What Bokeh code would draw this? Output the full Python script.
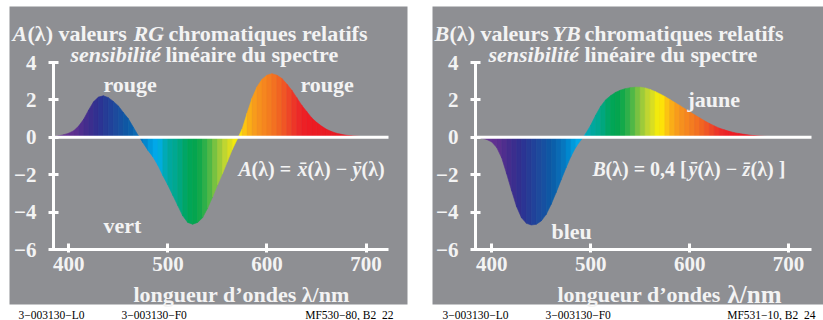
from bokeh.plotting import figure
from bokeh.models import Range1d, Label, BoxAnnotation, ColumnDataSource
from bokeh.layouts import row
from bokeh.embed import file_html
from bokeh.resources import INLINE

# ---- data -------------------------------------------------------------
wavelengths = list(range(385, 725, 5))  # nm

# A(lambda) = xbar - ybar  (red/green opponent signal)
a_values = [0.04, 0.08, 0.14, 0.22, 0.35, 0.60, 0.96, 1.45, 1.90, 2.15,
            2.22, 2.12, 1.92, 1.68, 1.33, 1.00, 0.55, 0.10, -0.30, -0.70,
            -1.05, -1.50, -2.05, -2.55, -3.10, -3.65, -4.20, -4.55, -4.65, -4.55,
            -4.30, -3.80, -3.20, -2.55, -1.95, -1.30, -0.65, -0.10, 0.45, 1.30,
            2.10, 2.70, 3.10, 3.32, 3.40, 3.32, 3.15, 2.85, 2.52, 2.12,
            1.72, 1.38, 1.05, 0.80, 0.60, 0.43, 0.31, 0.22, 0.16, 0.11,
            0.08, 0.06, 0.04, 0.03, 0.02, 0.01, 0.01, 0.005]

# B(lambda) = 0.4 (ybar - zbar)  (yellow/blue opponent signal)
b_values = [-0.02, -0.05, -0.12, -0.25, -0.55, -1.10, -1.95, -2.85, -3.70, -4.30,
            -4.60, -4.69, -4.65, -4.47, -4.12, -3.58, -2.95, -2.28, -1.63, -1.02,
            -0.52, -0.15, 0.20, 0.65, 1.18, 1.65, 2.00, 2.22, 2.40, 2.52,
            2.60, 2.65, 2.68, 2.68, 2.64, 2.56, 2.45, 2.32, 2.18, 2.02,
            1.86, 1.70, 1.53, 1.36, 1.20, 1.04, 0.88, 0.74, 0.61, 0.49,
            0.40, 0.32, 0.25, 0.20, 0.16, 0.12, 0.09, 0.07, 0.05, 0.04,
            0.03, 0.02, 0.015, 0.01, 0.008, 0.005, 0.003, 0.002]

x_ticks = [400, 500, 600, 700]
y_ticks = [-6, -4, -2, 0, 2, 4]
y_tick_labels = {-6: "\u22126", -4: "\u22124", -2: "\u22122", 0: "0", 2: "2", 4: "4"}
y_limits = (-6, 4)

# ---- style ------------------------------------------------------------
GRAY = "#8e8f93"
INK = "#f3f3f3"
FONT = "Liberation Serif"
BI = "bold italic"
B = "bold"
N = "normal"

# spectral colour stops used for the vertical strips
SPECTRUM = [
    (380, (0x6c, 0x3b, 0x92)), (405, (0x5f, 0x2f, 0x90)), (420, (0x3f, 0x2d, 0x8c)),
    (430, (0x2e, 0x31, 0x92)), (440, (0x23, 0x3f, 0x98)), (450, (0x1b, 0x4d, 0x9f)),
    (460, (0x0b, 0x5a, 0xa6)), (470, (0x0a, 0x6f, 0xb8)), (478, (0x00, 0x89, 0xcf)),
    (485, (0x00, 0xa3, 0xe3)), (490, (0x00, 0xae, 0xef)), (495, (0x00, 0xac, 0xc8)),
    (500, (0x00, 0xa9, 0xa5)), (510, (0x00, 0xa7, 0x8a)), (520, (0x00, 0xa6, 0x5a)),
    (530, (0x05, 0xa5, 0x4b)), (540, (0x3c, 0xb4, 0x49)), (550, (0x8c, 0xc6, 0x3e)),
    (558, (0xc2, 0xd7, 0x30)), (565, (0xe6, 0xe2, 0x1a)), (570, (0xff, 0xf2, 0x00)),
    (575, (0xfc, 0xd2, 0x0f)), (580, (0xfb, 0xb5, 0x15)), (590, (0xf7, 0x94, 0x1d)),
    (600, (0xf5, 0x82, 0x20)), (610, (0xf2, 0x6b, 0x21)), (620, (0xef, 0x4f, 0x26)),
    (630, (0xec, 0x2d, 0x29)), (640, (0xed, 0x1c, 0x24)), (725, (0xe0, 0x14, 0x1d)),
]


def spectral_color(wl):
    for (w0, c0), (w1, c1) in zip(SPECTRUM[:-1], SPECTRUM[1:]):
        if w0 <= wl <= w1:
            t = (wl - w0) / (w1 - w0)
            r, g, b = (round(a + (b_ - a) * t) for a, b_ in zip(c0, c1))
            return "#%02x%02x%02x" % (r, g, b)
    return "#%02x%02x%02x" % SPECTRUM[-1][1]


def strips(wl, vals):
    xs, ys, colors = [], [], []
    for i in range(len(wl) - 1):
        xs.append([wl[i], wl[i], wl[i + 1], wl[i + 1]])
        ys.append([0, vals[i], vals[i + 1], 0])
        colors.append(spectral_color((wl[i] + wl[i + 1]) / 2))
    return ColumnDataSource(dict(xs=xs, ys=ys, color=colors))


def make_panel(spec):
    # canvas and chart box, in page pixels
    cl, cr = spec["canvas"]
    ct, cb = 0, 320
    fl, fr, ft, fb = spec["chart"]
    x0, x1 = spec["xr"]
    y0, y1 = y_limits
    kx = (x1 - x0) / (fr - fl)
    ky = (y1 - y0) / (fb - ft)

    def dx(px):
        return x0 + (px - fl) * kx

    def dy(py):
        return y1 - (py - ft) * ky

    p = figure(width=cr - cl, height=cb - ct, title=None,
               x_range=Range1d(dx(cl), dx(cr)), y_range=Range1d(dy(cb), dy(ct)),
               output_backend="svg", toolbar_location=None, min_border=0,
               background_fill_color="white", border_fill_color="white",
               outline_line_color=None)
    p.grid.visible = False

    # grey card behind the chart
    gl, gr, gt, gbot = spec["card"]
    p.add_layout(BoxAnnotation(left=dx(gl), right=dx(gr), top=dy(gt), bottom=dy(gbot),
                               fill_color=GRAY, fill_alpha=1.0, line_color=None,
                               level="underlay"))

    p.patches(xs="xs", ys="ys", fill_color="color", line_color="color",
              line_width=0.6, source=strips(wavelengths, spec["values"]))
    # zero line across the wavelength span
    p.segment(x0=[x0], y0=[0], x1=[x1], y1=[0], line_color="white", line_width=3)

    for ax in (p.xaxis[0], p.yaxis[0]):
        ax.axis_line_color = "white"
        ax.axis_line_width = 3
        ax.major_tick_line_color = "white"
        ax.major_tick_line_width = 3
        ax.minor_tick_line_color = None
        ax.major_label_text_font = FONT
        ax.major_label_text_font_style = "bold"
        ax.major_label_text_font_size = "21px"
        ax.major_label_text_color = INK
    p.xaxis.ticker = x_ticks
    p.xaxis.bounds = (x0, x1)
    p.xaxis.fixed_location = y0
    p.xaxis.major_tick_in = 6
    p.xaxis.major_tick_out = 3
    p.xaxis.major_label_standoff = 4
    p.yaxis.ticker = y_ticks
    p.yaxis.bounds = (y0, y1)
    p.yaxis.fixed_location = x0
    p.yaxis.major_label_overrides = y_tick_labels
    p.yaxis.major_tick_in = 5
    p.yaxis.major_tick_out = 5
    p.yaxis.major_label_standoff = 12

    for text, px, py, size, style, align, color in spec["texts"]:
        p.add_layout(Label(x=dx(px), y=dy(py), text=text, text_font=FONT,
                           text_font_size=size, text_font_style=style,
                           text_color=color, text_align=align,
                           text_baseline="alphabetic"))
    return p


def t(text, px, py, size="22px", style=B, align="left", color=INK):
    return (text, px, py, size, style, align, color)


FOOT_Y = 314.5
FOOT_SIZE = "11.5px"

left = dict(
    canvas=(0, 420), card=(9, 407, 6, 304),
    chart=(53, 388, 62, 249), xr=(384.6, 722.6), values=a_values,
    texts=[
        t("A", 12, 33, style=BI), t("(\u03bb) valeurs", 27, 33),
        t("RG", 133, 33, style=BI), t("chromatiques relatifs", 168, 33),
        t("sensibilit\u00e9", 70, 54, style=BI), t("lin\u00e9aire du spectre", 165, 54),
        t("rouge", 103, 84), t("vert", 103, 225), t("rouge", 300, 84),
        t("A", 238, 168, "20px", BI), t("(\u03bb) = ", 251, 168, "20px"),
        t("x\u0304", 297, 168, "20px", BI), t("(\u03bb) \u2212 ", 307, 168, "20px"),
        t("y\u0304", 352, 168, "20px", BI), t("(\u03bb)", 361, 168, "20px"),
        t("longueur d\u2019ondes \u03bb/nm", 133, 294),
        t("3\u2212003130\u2212L0", 18, FOOT_Y, FOOT_SIZE, N, color="black"),
        t("3\u2212003130\u2212F0", 121, FOOT_Y, FOOT_SIZE, N, color="black"),
        t("MF530\u221280, B2_22", 393, FOOT_Y, FOOT_SIZE, N, "right", "black"),
    ],
)

right = dict(
    canvas=(420, 823), card=(432, 823, 6, 304),
    chart=(475, 811, 62, 249), xr=(383.5, 723.2), values=b_values,
    texts=[
        t("B", 434, 33, style=BI), t("(\u03bb) valeurs", 449, 33),
        t("YB", 552, 33, style=BI), t("chromatiques relatifs", 584, 33),
        t("sensibilit\u00e9", 488, 54, style=BI), t("lin\u00e9aire du spectre", 584, 54),
        t("jaune", 687, 99), t("bleu", 551, 231),
        t("B", 592, 168, "20px", BI), t("(\u03bb) = 0,4 [", 605, 168, "20px"),
        t("y\u0304", 688, 168, "20px", BI), t("(\u03bb) \u2212 ", 697, 168, "20px"),
        t("z\u0304", 742, 168, "20px", BI), t("(\u03bb) ]", 750, 168, "20px"),
        t("longueur d\u2019ondes ", 557, 294), t("\u03bb/nm", 727, 294, "25px"),
        t("3\u2212003130\u2212L0", 442, FOOT_Y, FOOT_SIZE, N, color="black"),
        t("3\u2212003130\u2212F0", 545, FOOT_Y, FOOT_SIZE, N, color="black"),
        t("MF531\u221210, B2_24", 815, FOOT_Y, FOOT_SIZE, N, "right", "black"),
    ],
)

layout = row(make_panel(left), make_panel(right), spacing=0)
open("out.html", "w").write(file_html(layout, INLINE))
